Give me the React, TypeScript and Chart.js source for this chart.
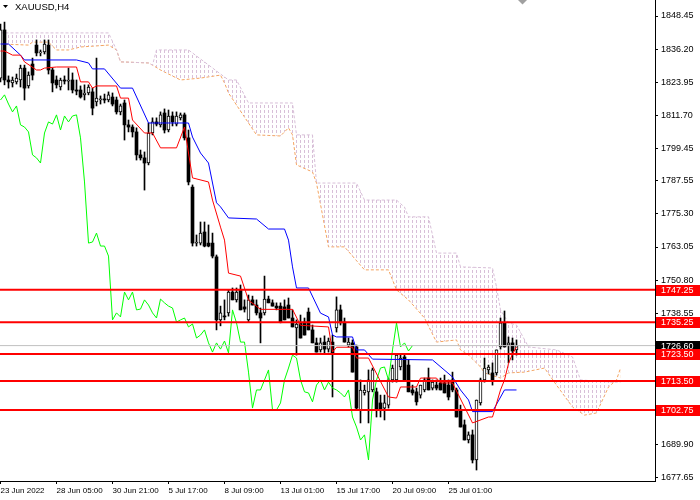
import React, { useEffect, useRef } from "react";
import { Chart, registerables } from "chart.js";

Chart.register(...registerables);

const titleText = "XAUUSD,H4";

// H4 candles, index 0 = first visible bar
const candleOpen = [
  1825.5, 1843.3, 1824.8, 1823.7, 1824.1, 1824.8, 1829.2, 1822.6, 1830.7, 1837.7,
  1834.8, 1835.2, 1837.7, 1828.5, 1824.8, 1822.2, 1824.8, 1824.4, 1824.8, 1821.1,
  1821.1, 1819.3, 1820.0, 1820.4, 1816.7, 1817.4, 1817.8, 1817.4, 1818.5, 1817.4,
  1813.0, 1816.3, 1808.2, 1807.4, 1805.6, 1797.1, 1796.0, 1794.1, 1805.2, 1809.3,
  1808.2, 1812.6, 1806.3, 1811.5, 1808.5, 1810.8, 1811.9, 1803.4, 1785.2, 1764.5,
  1764.5, 1768.6, 1764.5, 1764.5, 1759.4, 1736.1, 1737.5, 1738.7, 1746.4, 1743.5,
  1747.2, 1740.9, 1736.1, 1743.5, 1741.6, 1738.7, 1738.7, 1743.8, 1742.4, 1741.2,
  1741.2, 1740.9, 1741.6, 1736.8, 1733.1, 1735.0, 1735.3, 1739.0, 1732.4, 1727.6,
  1725.0, 1727.9, 1725.3, 1727.9, 1733.1, 1739.8, 1735.3, 1726.8, 1727.6, 1726.1,
  1702.8, 1709.1, 1709.5, 1710.2, 1709.5, 1705.4, 1703.5, 1704.6, 1713.9, 1713.9,
  1718.7, 1722.4, 1719.4, 1710.2, 1709.5, 1708.3, 1710.2, 1714.6, 1710.9, 1712.0,
  1712.8, 1712.8, 1712.0, 1713.9, 1710.2, 1702.8, 1697.3, 1691.7, 1693.6, 1684.3,
  1705.4, 1713.9, 1717.6, 1716.5, 1716.5, 1726.1, 1735.0, 1726.8, 1727.6, 1725.0,
];
const candleHigh = [
  1845.5, 1846.2, 1826.3, 1825.9, 1827.0, 1830.3, 1830.3, 1827.8, 1832.9, 1839.6,
  1835.9, 1839.6, 1839.6, 1829.2, 1826.3, 1825.5, 1826.3, 1829.2, 1827.4, 1824.8,
  1822.6, 1823.0, 1823.0, 1821.8, 1832.9, 1818.9, 1819.6, 1820.4, 1820.0, 1818.5,
  1815.9, 1817.4, 1810.0, 1808.2, 1807.1, 1798.9, 1798.2, 1808.9, 1810.8, 1810.8,
  1813.0, 1814.1, 1813.7, 1813.0, 1813.0, 1812.6, 1812.6, 1806.3, 1786.0, 1767.5,
  1772.3, 1772.3, 1771.2, 1768.2, 1760.1, 1741.2, 1743.5, 1747.2, 1747.9, 1747.9,
  1749.0, 1743.5, 1745.3, 1744.9, 1743.5, 1740.5, 1752.3, 1744.9, 1743.5, 1742.4,
  1742.4, 1743.5, 1744.2, 1739.8, 1736.1, 1737.9, 1736.8, 1740.5, 1734.2, 1729.4,
  1729.4, 1730.2, 1729.4, 1730.5, 1744.6, 1741.6, 1736.8, 1729.4, 1728.7, 1726.8,
  1713.9, 1712.0, 1717.6, 1718.3, 1710.9, 1708.3, 1708.3, 1714.6, 1719.4, 1723.1,
  1723.1, 1723.1, 1721.3, 1712.0, 1710.9, 1712.0, 1714.6, 1718.3, 1713.9, 1713.9,
  1714.6, 1715.7, 1713.9, 1716.8, 1710.9, 1704.6, 1699.1, 1694.7, 1695.4, 1706.5,
  1714.6, 1722.0, 1719.4, 1720.2, 1725.0, 1736.8, 1739.4, 1729.8, 1729.4, 1728.7,
];
const candleLow = [
  1824.1, 1823.0, 1821.8, 1822.2, 1823.3, 1822.2, 1817.4, 1821.8, 1824.8, 1833.7,
  1833.7, 1834.4, 1827.0, 1820.4, 1821.8, 1821.1, 1823.3, 1821.1, 1820.0, 1819.3,
  1818.1, 1817.4, 1819.3, 1811.9, 1815.2, 1815.9, 1816.3, 1816.7, 1815.2, 1812.2,
  1811.9, 1802.6, 1805.6, 1803.7, 1795.2, 1795.2, 1784.1, 1793.4, 1804.5, 1807.8,
  1807.4, 1805.2, 1805.6, 1807.8, 1807.8, 1810.0, 1802.6, 1786.0, 1763.4, 1763.4,
  1763.8, 1763.1, 1763.1, 1759.0, 1732.4, 1733.9, 1736.1, 1737.5, 1743.5, 1742.7,
  1739.8, 1739.0, 1735.3, 1741.6, 1737.9, 1727.6, 1737.9, 1742.4, 1741.2, 1739.8,
  1735.0, 1736.1, 1736.8, 1733.5, 1723.1, 1729.4, 1730.5, 1732.4, 1727.6, 1724.2,
  1724.2, 1723.9, 1724.2, 1707.6, 1731.6, 1734.2, 1727.9, 1726.1, 1716.8, 1702.8,
  1698.0, 1708.3, 1698.0, 1709.5, 1700.2, 1700.2, 1699.1, 1703.5, 1713.1, 1713.1,
  1717.6, 1713.9, 1709.5, 1708.3, 1704.6, 1707.2, 1709.5, 1710.2, 1710.2, 1710.2,
  1710.2, 1709.1, 1706.5, 1709.5, 1700.2, 1696.5, 1691.7, 1690.6, 1683.2, 1680.6,
  1704.6, 1713.1, 1716.1, 1712.0, 1715.7, 1725.3, 1726.1, 1720.2, 1721.3, 1723.1,
];
const candleClose = [
  1843.3, 1824.8, 1824.1, 1824.8, 1825.5, 1829.2, 1821.8, 1826.6, 1826.6, 1834.8,
  1835.2, 1838.1, 1828.5, 1823.7, 1823.0, 1824.8, 1824.4, 1824.8, 1821.1, 1820.7,
  1818.5, 1820.0, 1822.2, 1814.4, 1818.1, 1817.8, 1817.4, 1819.3, 1815.9, 1813.0,
  1815.2, 1808.2, 1807.4, 1805.6, 1797.1, 1796.0, 1794.1, 1805.2, 1809.3, 1808.5,
  1811.9, 1806.3, 1811.5, 1809.3, 1811.5, 1811.9, 1803.4, 1787.1, 1764.5, 1764.9,
  1768.2, 1763.4, 1763.4, 1759.7, 1736.1, 1738.7, 1737.2, 1746.4, 1743.5, 1746.4,
  1739.8, 1740.1, 1743.5, 1741.6, 1738.7, 1736.8, 1743.8, 1742.4, 1741.2, 1740.5,
  1735.3, 1736.1, 1736.8, 1733.5, 1734.6, 1729.4, 1730.5, 1732.4, 1727.6, 1724.2,
  1727.6, 1725.3, 1728.3, 1723.9, 1739.8, 1735.0, 1727.9, 1727.9, 1716.8, 1703.5,
  1710.2, 1710.2, 1713.9, 1717.6, 1702.8, 1702.8, 1705.4, 1713.9, 1718.3, 1723.1,
  1722.0, 1713.9, 1709.5, 1709.1, 1705.8, 1712.0, 1713.9, 1710.2, 1713.1, 1710.9,
  1710.2, 1709.1, 1707.6, 1710.2, 1700.2, 1696.5, 1691.7, 1693.6, 1684.3, 1706.5,
  1713.9, 1718.3, 1718.7, 1713.9, 1725.0, 1735.0, 1726.1, 1727.6, 1724.6, 1726.6,
];

// Ichimoku lines as [bar index, price]
const tenkanPoints = [
  [0, 1835.5], [1, 1835.5], [3, 1834.0], [5, 1834.0], [6, 1831.5], [9, 1828.5], [10, 1828.5],
  [11, 1829.2], [14, 1829.6], [19, 1829.6], [20, 1824.1], [22, 1824.1], [23, 1821.8], [24, 1822.6],
  [29, 1822.6], [30, 1818.1], [32, 1818.1], [33, 1810.0], [36, 1805.2], [38, 1805.2], [40, 1799.7],
  [44, 1799.7], [46, 1807.4], [47, 1797.8], [48, 1788.6], [52, 1787.1], [53, 1780.4], [55, 1770.4],
  [56, 1765.6], [57, 1753.4], [60, 1752.3], [62, 1743.4], [65, 1740.0], [73, 1740.0], [75, 1734.1],
  [82, 1733.5], [83, 1724.2], [84, 1726.0], [88, 1726.0], [89, 1722.0], [92, 1722.0], [97, 1707.6],
  [99, 1707.2], [100, 1711.3], [104, 1711.3], [105, 1714.6], [109, 1714.6], [110, 1712.8],
  [113, 1712.8], [118, 1698.0], [122, 1700.2], [123, 1700.2], [125, 1710.2], [126, 1713.9],
  [127, 1720.0], [128, 1723.5], [129, 1726.1],
];
const kijunPoints = [
  [0, 1838.1], [2, 1838.1], [5, 1834.0], [6, 1832.2], [19, 1832.2], [22, 1831.1], [23, 1828.9],
  [26, 1828.9], [30, 1821.8], [33, 1821.8], [37, 1808.9], [47, 1808.9], [48, 1803.7], [50, 1797.8],
  [52, 1794.1], [54, 1779.4], [55, 1777.9], [57, 1773.8], [64, 1773.4], [67, 1769.7], [71, 1769.7],
  [72, 1765.6], [73, 1755.7], [74, 1747.9], [77, 1747.9], [80, 1738.6], [82, 1737.2], [83, 1730.5],
  [84, 1729.8], [88, 1729.8], [89, 1725.0], [91, 1725.0], [93, 1721.6], [108, 1721.3], [113, 1715.0],
  [115, 1710.2], [117, 1706.5], [118, 1702.2], [123, 1702.2], [126, 1710.2], [129, 1710.2],
];
const spanAPoints = [
  [0, 1838.1], [7, 1837.7], [8, 1838.8], [12, 1838.8], [14, 1835.9], [17, 1835.9], [20, 1837.0],
  [27, 1837.7], [29, 1835.9], [30, 1831.5], [37, 1831.1], [38, 1830.3], [40, 1828.5], [45, 1824.8],
  [50, 1825.5], [55, 1826.6], [56, 1823.7], [57, 1820.0], [61, 1811.1], [64, 1804.5], [70, 1804.1],
  [72, 1807.1], [73, 1804.5], [74, 1793.4], [78, 1790.8], [79, 1786.7], [82, 1763.1], [86, 1763.1],
  [91, 1754.6], [97, 1754.6], [99, 1747.2], [102, 1743.5], [106, 1736.8], [109, 1727.9], [114, 1728.7],
  [115, 1725.0], [117, 1723.1], [120, 1718.7], [121, 1716.5], [125, 1714.6], [127, 1716.5],
  [131, 1716.8], [136, 1718.3], [139, 1712.0], [143, 1703.9], [146, 1700.9], [149, 1701.7],
  [152, 1711.3], [154, 1713.9], [155, 1718.3],
];
const spanBPoints = [
  [0, 1842.2], [27, 1842.2], [29, 1835.9], [30, 1831.5], [37, 1831.1], [38, 1830.3], [39, 1835.9],
  [47, 1835.9], [57, 1824.8], [59, 1824.8], [62, 1816.3], [73, 1816.3], [74, 1804.5], [78, 1804.5],
  [79, 1786.7], [89, 1786.7], [91, 1780.4], [99, 1780.4], [101, 1777.8], [102, 1774.2], [107, 1774.2],
  [109, 1760.8], [114, 1760.8], [115, 1755.7], [123, 1755.3], [124, 1748.3], [125, 1739.8],
  [127, 1735.0], [129, 1734.2], [132, 1726.1], [139, 1725.0], [143, 1722.4], [145, 1713.9],
  [153, 1713.1], [155, 1713.1],
];
const chikouShift = 26;

const hLevels = [1747.25, 1735.25, 1723.5, 1713.5, 1702.75];
const currentPrice = 1726.6;

const yTicks = [
  1848.45, 1836.2, 1823.95, 1811.7, 1799.45, 1787.55, 1775.3, 1763.05, 1750.8, 1738.55,
  1726.3, 1714.05, 1702.15, 1689.9, 1677.65,
];
const xTickIdx = [0, 14, 28, 42, 56, 70, 84, 98, 112];
const xTickLabels = [
  "23 Jun 2022", "28 Jun 05:00", "30 Jun 21:00", "5 Jul 17:00", "8 Jul 09:00",
  "13 Jul 01:00", "15 Jul 17:00", "20 Jul 09:00", "25 Jul 01:00",
];

const Y_MAX = 1854.37;
const Y_MIN = 1676.54;
const X_MIN = -0.125;
const X_MAX = X_MIN + 655 / 4;

export default function App() {
  const ref = useRef<HTMLCanvasElement>(null);

  useEffect(() => {
    const canvas = ref.current;
    if (!canvas) return;
    const ctx = canvas.getContext("2d");
    if (!ctx) return;

    const hatch = (color: string) => {
      const tile = document.createElement("canvas");
      tile.width = 4;
      tile.height = 5;
      const g = tile.getContext("2d")!;
      g.fillStyle = color;
      g.fillRect(0, 0, 1, 3);
      return ctx.createPattern(tile, "repeat")!;
    };

    const n = candleOpen.length;
    const wicks: any[] = [];
    const bull: any[] = [];
    const bear: any[] = [];
    for (let i = 0; i < n; i++) {
      wicks.push({ x: i, y: [candleLow[i], candleHigh[i]] });
      const o = candleOpen[i];
      const c = candleClose[i];
      if (c >= o) bull.push({ x: i, y: [o, c] });
      else bear.push({ x: i, y: [c, o] });
    }
    const chikou: any[] = [];
    for (let i = chikouShift; i < n; i++) chikou.push({ x: i - chikouShift, y: candleClose[i] });

    const pts = (arr: number[][]) => arr.map(([x, y]) => ({ x, y }));
    const hLine = (v: number) => [{ x: X_MIN, y: v }, { x: X_MAX, y: v }];

    const lineBase = { type: "line", pointRadius: 0, borderWidth: 1, tension: 0, fill: false };

    const overlay = {
      id: "mtOverlay",
      afterDraw(chart: any) {
        const c = chart.ctx;
        const y = chart.scales.y;
        const area = chart.chartArea;
        c.save();
        // title
        c.fillStyle = "#000";
        c.beginPath();
        c.moveTo(3, 5);
        c.lineTo(8, 5);
        c.lineTo(5.5, 8);
        c.closePath();
        c.fill();
        c.font = '9.5px "Liberation Sans", Arial, sans-serif';
        c.textBaseline = "middle";
        c.textAlign = "left";
        c.fillStyle = "#000";
        c.fillText(titleText, 15, 7.5);
        // small grey marker at top
        c.fillStyle = "#a0a0a0";
        c.beginPath();
        c.moveTo(518, 0);
        c.lineTo(527, 0);
        c.lineTo(522.5, 4.5);
        c.closePath();
        c.fill();
        // price tags
        c.font = '9px "Liberation Sans", Arial, sans-serif';
        const tag = (v: number, bg: string) => {
          const py = y.getPixelForValue(v);
          c.fillStyle = bg;
          c.fillRect(area.right + 1, Math.round(py) - 5, 45, 11);
          c.fillStyle = "#fff";
          c.fillText(v.toFixed(2), area.right + 6, Math.round(py) + 0.5);
        };
        tag(currentPrice, "#000");
        hLevels.forEach((v) => tag(v, "#ff0000"));
        c.restore();
      },
    };

    const chart = new Chart(ctx, {
      type: "line",
      data: {
        datasets: [
          { ...lineBase, data: pts(spanAPoints), borderColor: "#F4A460", borderDash: [3, 2], order: 20 },
          {
            ...lineBase,
            data: pts(spanBPoints),
            borderColor: "#D8BFD8",
            borderDash: [3, 2],
            fill: { target: 0, above: hatch("#D8BFD8"), below: hatch("#F4A460") },
            order: 19,
          },
          { type: "bar", data: wicks, backgroundColor: "#000", borderWidth: 0, barThickness: 1, grouped: false, order: 10 },
          { type: "bar", data: bear, backgroundColor: "#000", borderWidth: 0, barThickness: 3, grouped: false, minBarLength: 1, order: 9 },
          {
            type: "bar",
            data: bull,
            backgroundColor: "#fff",
            borderColor: "#000",
            borderWidth: 1,
            borderSkipped: false,
            barThickness: 3,
            grouped: false,
            minBarLength: 1,
            order: 8,
          },
          { ...lineBase, data: chikou, borderColor: "#00FF00", order: 5 },
          { ...lineBase, data: pts(kijunPoints), borderColor: "#0000FF", order: 4 },
          { ...lineBase, data: pts(tenkanPoints), borderColor: "#FF0000", order: 3 },
          { ...lineBase, data: hLine(currentPrice), borderColor: "#C0C0C0", order: 2 },
          ...hLevels.map((v) => ({ ...lineBase, data: hLine(v), borderColor: "#FF0000", borderWidth: 2, order: 1 })),
        ] as any,
      },
      options: {
        animation: false,
        responsive: false,
        layout: { padding: 0 },
        plugins: {
          legend: { display: false },
          tooltip: { enabled: false },
          title: { display: false },
        },
        scales: {
          x: {
            type: "linear",
            position: "bottom",
            min: X_MIN,
            max: X_MAX,
            offset: false,
            bounds: "data",
            grid: { display: true, drawOnChartArea: false, drawTicks: true, tickLength: 3, tickColor: "#000", offset: false },
            border: { display: true, color: "#000", width: 1 },
            ticks: {
              autoSkip: false,
              maxRotation: 0,
              minRotation: 0,
              align: "start",
              padding: 2,
              color: "#000",
              font: { family: '"Liberation Sans", Arial, sans-serif', size: 8 },
              callback: (_v: any, i: number) => xTickLabels[i] ?? "",
            },
            afterBuildTicks: (s: any) => {
              s.ticks = xTickIdx.map((v) => ({ value: v }));
            },
            afterFit: (s: any) => {
              s.height = 19;
              s.paddingLeft = 0;
              s.paddingRight = 0;
            },
          },
          y: {
            type: "linear",
            position: "right",
            min: Y_MIN,
            max: Y_MAX,
            beginAtZero: false,
            bounds: "data",
            grid: { display: true, drawOnChartArea: false, drawTicks: true, tickLength: 3, tickColor: "#000" },
            border: { display: true, color: "#000", width: 1 },
            ticks: {
              autoSkip: false,
              padding: 3,
              color: "#000",
              font: { family: '"Liberation Sans", Arial, sans-serif', size: 9 },
              callback: (v: any) => Number(v).toFixed(2),
            },
            afterBuildTicks: (s: any) => {
              s.ticks = yTicks.map((v) => ({ value: v }));
            },
            afterFit: (s: any) => {
              s.width = 45;
              s.paddingTop = 0;
              s.paddingBottom = 0;
            },
          },
        },
      } as any,
      plugins: [overlay],
    });

    return () => chart.destroy();
  }, []);

  return (
    <div style={{ position: "fixed", left: 0, top: 0, width: 700, height: 500, background: "#fff" }}>
      <canvas ref={ref} width={700} height={500} style={{ display: "block", width: 700, height: 500 }} />
    </div>
  );
}
